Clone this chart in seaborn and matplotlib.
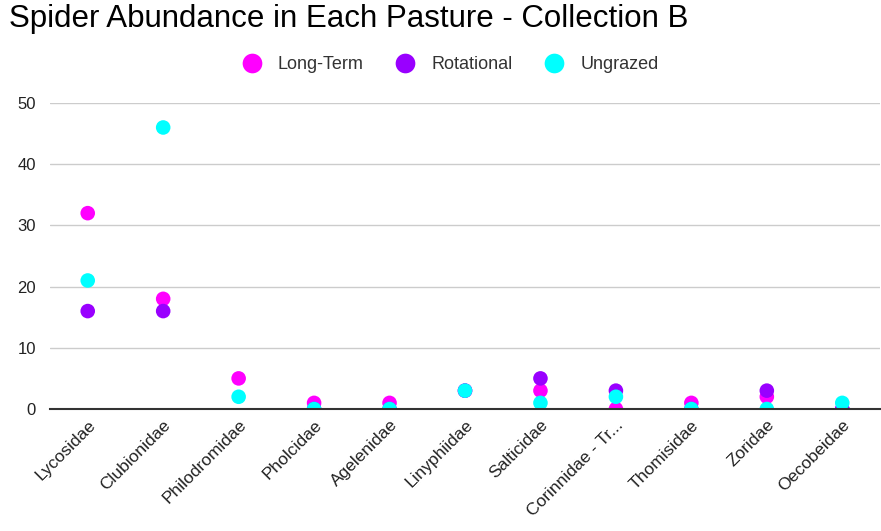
import numpy as np
import pandas as pd
import matplotlib
matplotlib.use("Agg")
import matplotlib.pyplot as plt
import seaborn as sns

families = ["Lycosidae", "Clubionidae", "Philodromidae", "Pholcidae", "Agelenidae",
            "Linyphiidae", "Salticidae", "Corinnidae - Tr...", "Thomisidae", "Zoridae",
            "Oecobeidae"]
long_term = [32, 18, 5, 1, 1, 3, 3, 0, 1, 2, 0]
rotational = [16, 16, np.nan, 0, 0, 3, 5, 3, 0, 3, 0]
ungrazed = [21, 46, 2, 0, 0, 3, 1, 2, 0, 0, 1]

series = ["Long-Term", "Rotational", "Ungrazed"]
colors = ["#ff00ff", "#9900ff", "#00ffff"]

df = pd.concat([
    pd.DataFrame({"Family": families, "Count": vals, "Pasture": name})
    for name, vals in zip(series, [long_term, rotational, ungrazed])
]).dropna()

sns.set_theme(style="white")
plt.rcParams["font.family"] = ["Liberation Sans", "DejaVu Sans"]

fig = plt.figure(figsize=(8.81, 5.31), dpi=100)
ax = fig.add_axes([50 / 881, 1 - 409 / 531, 830 / 881, 306 / 531])

sns.stripplot(data=df, x="Family", y="Count", hue="Pasture", hue_order=series,
              order=families, palette=colors, jitter=False, dodge=False,
              size=10.5, linewidth=0, ax=ax, legend=True, zorder=3)

ax.set_xlim(-0.5, len(families) - 0.5)
ax.set_ylim(0, 50)
ax.set_yticks([0, 10, 20, 30, 40, 50])
ax.yaxis.grid(True, color="#cccccc", linewidth=1)
ax.set_axisbelow(True)
for side in ["top", "right", "left"]:
    ax.spines[side].set_visible(False)
ax.spines["bottom"].set_color("#333333")
ax.spines["bottom"].set_linewidth(1.5)
ax.spines["bottom"].set_zorder(4)
ax.set_xlabel("")
ax.set_ylabel("")
ax.tick_params(axis="y", length=0, labelsize=12, labelcolor="#222222", pad=10)
ax.tick_params(axis="x", length=0, labelsize=12.5, labelcolor="#222222", pad=6)
plt.setp(ax.get_xticklabels(), rotation=45, ha="right", rotation_mode="anchor")

handles, labels = ax.get_legend_handles_labels()
ax.legend_.remove()
leg = fig.legend(handles, labels, loc="center", bbox_to_anchor=(446 / 881, 1 - 65 / 531),
                 ncol=3, frameon=False, fontsize=13, handletextpad=0.45,
                 columnspacing=1.3, markerscale=1.35)
for t in leg.get_texts():
    t.set_color("#333333")

fig.text(9 / 881, 1 - 19 / 531, "Spider Abundance in Each Pasture - Collection B",
         fontsize=22.5, ha="left", va="center", color="#000000")

fig.savefig("out.png", dpi=100)
